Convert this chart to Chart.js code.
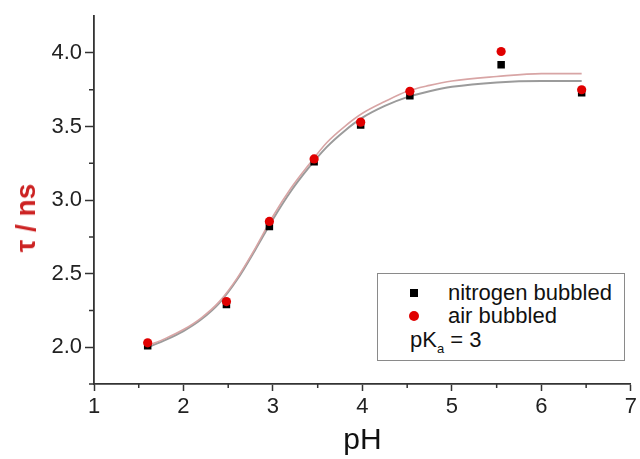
<!DOCTYPE html>
<html lang="en">
<head>
  <meta charset="UTF-8">
  <title>pH titration</title>
  <style>
    html, body { margin: 0; padding: 0; background: #fff; overflow: hidden; }
    .wrap { position: relative; width: 640px; height: 459px; }
    #tauChart { display: block; }
    .ytitle {
      position: absolute; left: 26px; top: 218px; transform: translate(-50%, -50%) rotate(-90deg);
      font-family: "Liberation Sans", Arial, sans-serif; font-size: 28px; font-weight: bold;
      color: #cc2222; white-space: nowrap; line-height: 1;
    }
    .legend-box {
      position: absolute; left: 377px; top: 273px; width: 246px; height: 86px;
      border: 1.5px solid #8a8a8a; background: #fff;
      font-family: "Liberation Sans", Arial, sans-serif; font-size: 22px; color: #111;
    }
    .legend-box .row { position: absolute; left: 0; height: 22px; line-height: 22px; white-space: nowrap; }
    .legend-box .mark { position: absolute; }
    .sq { left: 32px; top: 7px; width: 8px; height: 8px; background: #000; }
    .dot { left: 31px; top: 6px; width: 10px; height: 10px; border-radius: 50%; background: #e00000; }
    .legend-box .txt { position: absolute; left: 70px; top: 0; }
    sub { font-size: 13px; vertical-align: -6px; }
  </style>
</head>
<body>
<div class="wrap">
  <canvas id="tauChart" width="640" height="459"></canvas>
  <div class="ytitle">τ / ns</div>
  <div class="legend-box">
    <div class="row" style="top:8px"><span class="mark sq"></span><span class="txt">nitrogen bubbled</span></div>
    <div class="row" style="top:31px"><span class="mark dot"></span><span class="txt">air bubbled</span></div>
    <div class="row" style="top:55px"><span class="txt" style="left:32px">pK<sub>a</sub> = 3</span></div>
  </div>
</div>

<script src="https://cdn.jsdelivr.net/npm/chart.js"></script>
<script>
  // measured points
  const phPoints = [1.6, 2.48, 2.96, 3.46, 3.98, 4.53, 5.55, 6.45];
  const tauNitrogen = [2.01, 2.29, 2.82, 3.26, 3.51, 3.71, 3.92, 3.73];
  const tauAir = [2.03, 2.31, 2.855, 3.28, 3.53, 3.74, 4.01, 3.75];

  // fitted curves
  const fitPh = [1.6, 1.8, 2.0, 2.2, 2.4, 2.6, 2.8, 3.0, 3.2, 3.4, 3.6, 3.8, 4.0, 4.25, 4.5, 4.75, 5.0, 5.5, 6.0, 6.45];
  const fitNitrogen = [2.00, 2.05, 2.11, 2.19, 2.30, 2.46, 2.66, 2.87, 3.06, 3.22, 3.36, 3.47, 3.56, 3.64, 3.70, 3.74, 3.77, 3.80, 3.81, 3.81];
  const fitAir = [2.01, 2.06, 2.12, 2.20, 2.31, 2.47, 2.67, 2.89, 3.08, 3.24, 3.39, 3.50, 3.59, 3.67, 3.74, 3.78, 3.81, 3.84, 3.86, 3.86];

  const xTicks = [1, 2, 3, 4, 5, 6, 7];
  const yTicks = [2.0, 2.5, 3.0, 3.5, 4.0];

  const toXY = (xs, ys) => xs.map((x, i) => ({ x: x, y: ys[i] }));
  const font = "'Liberation Sans', Arial, sans-serif";

  // short minor ticks between the labelled ones
  const minorTicks = {
    id: 'minorTicks',
    afterDraw(chart) {
      const ctx = chart.ctx;
      const xs = chart.scales.x, ys = chart.scales.y;
      ctx.save();
      ctx.strokeStyle = '#333';
      ctx.lineWidth = 1.5;
      ctx.beginPath();
      for (let v = 1.5; v < 7; v += 1) {
        const px = xs.getPixelForValue(v);
        ctx.moveTo(px, xs.top);
        ctx.lineTo(px, xs.top + 4);
      }
      for (let v = 1.75; v < 4.25; v += 0.5) {
        const py = ys.getPixelForValue(v);
        ctx.moveTo(ys.right, py);
        ctx.lineTo(ys.right - 5, py);
      }
      ctx.stroke();
      ctx.restore();
    }
  };

  new Chart(document.getElementById('tauChart').getContext('2d'), {
    type: 'scatter',
    data: {
      datasets: [
        {
          label: 'air bubbled',
          data: toXY(phPoints, tauAir),
          pointStyle: 'circle',
          pointRadius: 4.6,
          backgroundColor: '#e00000',
          borderColor: '#e00000',
          borderWidth: 0,
          order: 0
        },
        {
          label: 'nitrogen bubbled',
          data: toXY(phPoints, tauNitrogen),
          pointStyle: 'rect',
          pointRadius: 5.3,
          backgroundColor: '#000',
          borderColor: '#000',
          borderWidth: 0,
          order: 1
        },
        {
          label: 'fit air',
          data: toXY(fitPh, fitAir),
          showLine: true,
          pointRadius: 0,
          borderColor: 'rgb(216,165,165)',
          borderWidth: 1.6,
          cubicInterpolationMode: 'monotone',
          order: 2
        },
        {
          label: 'fit nitrogen',
          data: toXY(fitPh, fitNitrogen),
          showLine: true,
          pointRadius: 0,
          borderColor: 'rgb(155,155,155)',
          borderWidth: 2,
          cubicInterpolationMode: 'monotone',
          order: 3
        }
      ]
    },
    options: {
      responsive: false,
      animation: false,
      layout: { padding: { top: 14, left: 0, right: 0, bottom: 0 } },
      plugins: {
        legend: { display: false },
        tooltip: { enabled: false }
      },
      scales: {
        x: {
          type: 'linear',
          min: 1,
          max: 7,
          afterFit: s => { s.height = 75; },
          afterBuildTicks: s => { s.ticks = xTicks.map(v => ({ value: v })); },
          border: { display: true, color: '#333', width: 1.8 },
          grid: { drawOnChartArea: false, tickLength: 7, tickColor: '#333', tickWidth: 1.5 },
          ticks: {
            color: '#222',
            padding: 3,
            font: { family: font, size: 22 },
            callback: v => String(v)
          },
          title: {
            display: true,
            text: 'pH',
            color: '#111',
            font: { family: font, size: 30 },
            padding: { top: 0, bottom: 0 }
          }
        },
        y: {
          type: 'linear',
          min: 1.75,
          max: 4.25,
          afterFit: s => { s.width = 94; },
          afterBuildTicks: s => { s.ticks = yTicks.map(v => ({ value: v })); },
          border: { display: true, color: '#333', width: 1.8 },
          grid: { drawOnChartArea: false, tickLength: 9, tickColor: '#333', tickWidth: 1.5 },
          ticks: {
            color: '#222',
            padding: 3,
            font: { family: font, size: 22 },
            callback: v => v.toFixed(1)
          }
        }
      }
    },
    plugins: [minorTicks]
  });
</script>
</body>
</html>
